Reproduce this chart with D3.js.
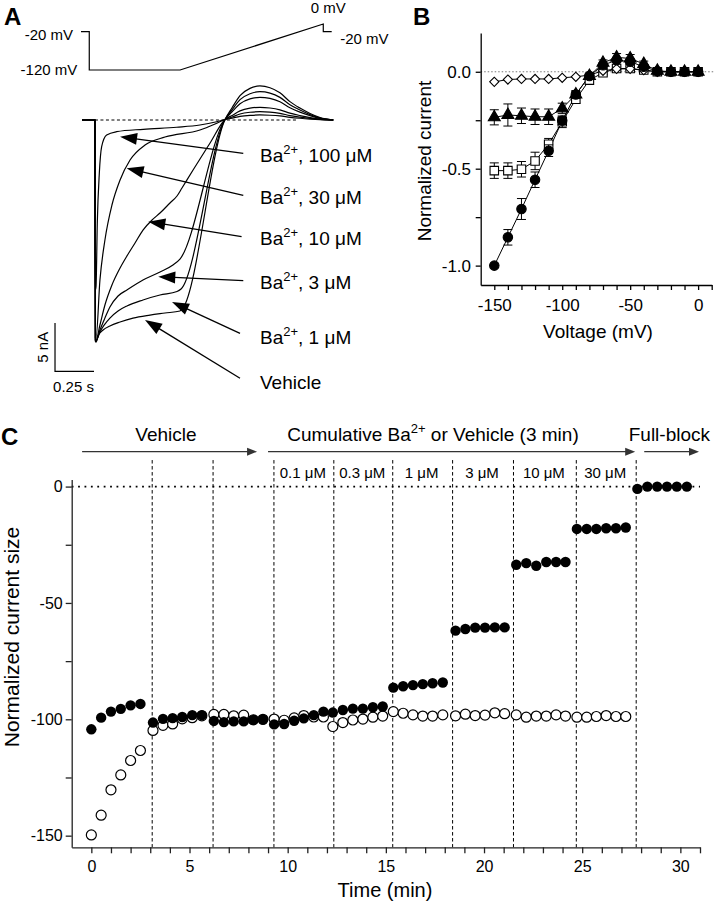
<!DOCTYPE html>
<html><head><meta charset="utf-8">
<script src="https://cdn.jsdelivr.net/npm/d3@7"></script>
<style>
body{margin:0;background:#fff}
svg{display:block}
text{font-family:"Liberation Sans",Arial,Helvetica,sans-serif;fill:#000}
</style>
</head><body>
<svg id="fig" width="714" height="908"></svg>
<script>
// ---------------- DATA ----------------
// Panel A: voltage protocol (ms, mV)
const protoT = [0, 53, 53, 635, 1553, 1553, 1607];
const protoV = [-20, -20, -120, -120, 0, -20, -20];

// Panel A: current traces (time ms, current nA)
const humpT = [962, 1013, 1077, 1141, 1205, 1269, 1333, 1397, 1462, 1526, 1611];
const tVehicle = [0, 83, 86, 90, 103, 135, 179, 244, 327, 436, 532, 628, 647, 917];
const iVehicle = [0, 0, -22.9, -22.96, -22.34, -21.72, -21.30, -20.89, -20.48, -20.17, -19.96, -19.75, -19.44, 0.05];
const hVehicle = [1.27, 2.53, 3.27, 3.52, 3.34, 2.82, 1.90, 1.23, 0.67, 0.25, 0];
const tBa1 = [0, 83, 86, 90, 115, 147, 179, 231, 288, 391, 500, 609, 635, 917];
const iBa1 = [0, 0, -22.8, -22.85, -21.92, -21.10, -20.48, -19.75, -19.23, -18.61, -18.10, -17.74, -17.48, 0.05];
const hBa1 = [1.05, 2.11, 2.72, 2.93, 2.78, 2.34, 1.58, 1.03, 0.56, 0.21, 0];
const tBa3 = [0, 83, 86, 90, 115, 147, 179, 231, 288, 391, 500, 583, 628, 917];
const iBa3 = [0, 0, -22.8, -22.85, -21.72, -20.48, -19.34, -18.20, -17.58, -16.55, -15.72, -15.0, -14.38, 0.05];
const hBa3 = [0.85, 1.69, 2.19, 2.35, 2.23, 1.88, 1.27, 0.82, 0.45, 0.16, 0];
const tBa10 = [0, 83, 86, 90, 115, 147, 192, 244, 288, 340, 391, 449, 500, 564, 609, 641, 712, 821, 917];
const iBa10 = [0, 0, -22.7, -22.75, -21.2, -19.13, -17.06, -15.3, -14.06, -12.72, -11.38, -10.34, -9.62, -8.58, -7.86, -7.03, -5.17, -2.38, 0.05];
const hBa10 = [0.47, 0.94, 1.22, 1.31, 1.24, 1.05, 0.71, 0.46, 0.25, 0.09, 0];
const tBa30 = [0, 83, 86, 90, 115, 147, 192, 244, 308, 404, 532, 756, 853, 917];
const iBa30 = [0, 0, -22.5, -22.54, -16.55, -12.41, -8.79, -6.20, -4.14, -2.59, -1.76, -1.03, -0.41, 0.05];
const hBa30 = [0.31, 0.62, 0.80, 0.86, 0.82, 0.69, 0.46, 0.30, 0.16, 0.06, 0];
const tBa100 = [0, 83, 85, 90, 98, 111, 126, 158, 222, 393, 607, 756, 863, 917];
const iBa100 = [0, 0, -17.6, -17.2, -10.68, -5.51, -2.76, -1.55, -1.21, -0.96, -0.75, -0.52, -0.18, 0.05];
const hBa100 = [0.19, 0.37, 0.48, 0.52, 0.49, 0.42, 0.28, 0.18, 0.10, 0.04, 0];

// Panel A trace labels, with arrow tail/tip (ms, nA)
const labelText = ["100 μM", "30 μM", "10 μM", "3 μM", "1 μM", "Vehicle"];
const labelI = [-3.62, -7.93, -12.23, -16.72, -22.41, -27.06];
const arrowTailT = [1034, 1034, 1023, 1034, 1013, 1013];
const arrowTailI = [-3.45, -7.79, -12.07, -16.62, -22.06, -26.7];
const arrowTipT = [244, 286, 425, 489, 577, 404];
const arrowTipI = [-1.72, -5.0, -10.51, -16.20, -18.82, -20.68];

// Panel B: I-V relationship
const volts = [-150, -140, -130, -120, -110, -100, -90, -80, -70, -60, -50, -40, -30, -20, -10, 0];
const ivCircle = [-1.0, -0.854, -0.708, -0.557, -0.407, -0.252, -0.117, -0.022, 0.034, 0.060, 0.052, 0.026, 0.003, 0.0, 0.0, 0.0];
const ivCircleErr = [0, 0.04, 0.054, 0.04, 0.03, 0.02, 0.015, 0.01, 0.01, 0.01, 0.01, 0.01, 0.005, 0.005, 0.005, 0.005];
const ivSquare = [-0.51, -0.51, -0.503, -0.46, -0.374, -0.258, -0.142, -0.043, -0.005, 0.017, 0.017, 0.009, 0.0, 0.0, 0.0, 0.0];
const ivSquareErr = [0.04, 0.04, 0.04, 0.045, 0.03, 0.03, 0.02, 0.01, 0.01, 0.01, 0.01, 0.01, 0.005, 0.005, 0.005, 0.005];
const ivTriangle = [-0.235, -0.223, -0.227, -0.232, -0.232, -0.189, -0.117, -0.022, 0.046, 0.074, 0.069, 0.04, 0.005, 0.0, 0.0, 0.0];
const ivTriangleErr = [0.039, 0.057, 0.04, 0.04, 0.04, 0.027, 0.02, 0.015, 0.015, 0.02, 0.02, 0.015, 0.01, 0.005, 0.005, 0.005];
const ivDiamond = [-0.052, -0.04, -0.037, -0.037, -0.037, -0.031, -0.026, -0.017, 0.005, 0.015, 0.015, 0.008, 0.0, 0.0, 0.0, 0.0];
const ivDiamondErr = [0.005, 0.005, 0.005, 0.005, 0.005, 0.005, 0.005, 0.005, 0.005, 0.005, 0.005, 0.005, 0.005, 0.005, 0.005, 0.005];

// Panel C: time course
const timeMin = [0, 0.5, 1, 1.5, 2, 2.5,
  3.14, 3.65, 4.14, 4.63, 5.14, 5.63,
  6.24, 6.75, 7.25, 7.76, 8.25, 8.74,
  9.31, 9.82, 10.33, 10.82, 11.33, 11.82,
  12.3, 12.81, 13.32, 13.83, 14.34, 14.84,
  15.38, 15.88, 16.38, 16.88, 17.38, 17.9,
  18.55, 19.05, 19.55, 20.05, 20.55, 21.05,
  21.64, 22.15, 22.66, 23.17, 23.67, 24.15,
  24.73, 25.23, 25.72, 26.22, 26.72, 27.22,
  27.81, 28.32, 28.82, 29.32, 29.82, 30.33];
const baCurrent = [-104.3, -99.3, -96.7, -95.5, -94.0, -93.4,
  -101.4, -99.8, -99.5, -99.0, -98.2, -98.2,
  -100.7, -101.2, -100.9, -100.9, -100.3, -100.1,
  -102.2, -102.0, -100.6, -99.6, -98.2, -96.7,
  -97.1, -96.0, -95.4, -95.4, -94.8, -94.5,
  -86.4, -85.8, -85.3, -84.9, -84.5, -84.2,
  -61.9, -61.2, -60.6, -60.6, -60.5, -60.5,
  -33.6, -32.9, -34.0, -32.4, -32.4, -32.4,
  -18.2, -18.2, -18.2, -17.9, -17.9, -17.6,
  -1.0, 0, 0, 0, 0, 0];
const vehicleCurrent = [-149.7, -141.2, -130.3, -123.9, -117.7, -113.4,
  -104.8, -102.6, -102.0, -99.8, -99.3, -98.5,
  -97.9, -97.9, -98.5, -98.2, -100.2, -100.0,
  -99.9, -100.4, -99.4, -98.4, -99.0, -99.0,
  -103.1, -101.4, -100.3, -99.9, -99.1, -98.6,
  -96.7, -97.4, -98.1, -98.6, -98.6, -98.1,
  -98.5, -97.8, -98.4, -98.2, -97.2, -97.6,
  -98.1, -99.1, -98.6, -98.6, -98.1, -98.6,
  -99.1, -99.1, -98.8, -98.4, -98.8, -98.8];
const solutionChanges = [3.1, 6.2, 9.3, 12.35, 15.35, 18.4, 21.5, 24.7, 27.75];
const concLabels = ["0.1 μM", "0.3 μM", "1 μM", "3 μM", "10 μM", "30 μM"];
const yTicksC = [0, -50, -100, -150];
const xTicksC = [0, 5, 10, 15, 20, 25, 30];

// ---------------- DRAW ----------------
const svg = d3.select("#fig");
const FONT = '"Liberation Sans", Arial, Helvetica, sans-serif';

function arrow(g, x1, y1, x2, y2, L, W, color) {
  const dx = x2 - x1, dy = y2 - y1, len = Math.hypot(dx, dy);
  const ux = dx / len, uy = dy / len;
  const bx = x2 - ux * L, by = y2 - uy * L;
  g.append("line").attr("x1", x1).attr("y1", y1).attr("x2", bx + ux * 1).attr("y2", by + uy * 1)
    .attr("stroke", color).attr("stroke-width", 1.3);
  g.append("path").attr("d", `M${x2},${y2}L${bx - uy * W / 2},${by + ux * W / 2}L${bx + uy * W / 2},${by - ux * W / 2}Z`)
    .attr("fill", color);
}

// Panel letters
[["A", 4, 25], ["B", 413, 25], ["C", 1, 445]].forEach(([t, x, y]) =>
  svg.append("text").attr("x", x).attr("y", y).attr("font-size", 24).attr("font-weight", "bold").text(t));

// ===== Panel A =====
const gA = svg.append("g");
const xP = d3.scaleLinear().domain([0, 1607]).range([81, 331.7]);
const yP = d3.scaleLinear().domain([-120, 0]).range([70, 24]);
gA.append("path").datum(protoT.map((t, i) => [t, protoV[i]]))
  .attr("d", d3.line().x(d => xP(d[0])).y(d => yP(d[1])))
  .attr("fill", "none").attr("stroke", "#000").attr("stroke-width", 1.2);
gA.append("text").attr("x", xP(0) - 8).attr("y", yP(-20) + 8).attr("text-anchor", "end").attr("font-size", 15).text("-20 mV");
gA.append("text").attr("x", xP(53) - 12).attr("y", yP(-120) + 5).attr("text-anchor", "end").attr("font-size", 15).text("-120 mV");
gA.append("text").attr("x", xP(1553) + 5).attr("y", yP(0) - 11).attr("text-anchor", "middle").attr("font-size", 15).text("0 mV");
gA.append("text").attr("x", xP(1553) + 17).attr("y", yP(-20) + 12).attr("font-size", 15).text("-20 mV");

const xA = d3.scaleLinear().domain([0, 1611]).range([82, 333.3]);
const yA = d3.scaleLinear().domain([0, -22.75]).range([120, 340]);
// baseline
gA.append("line").attr("x1", xA(83)).attr("x2", xA(1372)).attr("y1", yA(0)).attr("y2", yA(0))
  .attr("stroke", "#000").attr("stroke-width", 1).attr("stroke-dasharray", "3,2.5");
const traces = [[tVehicle, iVehicle, hVehicle], [tBa1, iBa1, hBa1], [tBa3, iBa3, hBa3],
  [tBa10, iBa10, hBa10], [tBa30, iBa30, hBa30], [tBa100, iBa100, hBa100]];
const lineA = d3.line().x(d => xA(d[0])).y(d => yA(d[1])).curve(d3.curveMonotoneX);
traces.forEach(([t, i, h]) => {
  const pts = t.map((v, k) => [v, i[k]]).concat(humpT.map((v, k) => [v, h[k]]));
  gA.append("path").datum(pts).attr("d", lineA).attr("fill", "none")
    .attr("stroke", "#000").attr("stroke-width", 1.2);
});
// labels + arrows
labelText.forEach((lab, k) => {
  arrow(gA, xA(arrowTailT[k]), yA(arrowTailI[k]), xA(arrowTipT[k]), yA(arrowTipI[k]), 17, 12, "#000");
  const tx = gA.append("text").attr("x", xA(1141)).attr("y", yA(labelI[k]) + 7).attr("font-size", 19);
  if (lab === "Vehicle") { tx.text("Vehicle"); }
  else {
    tx.append("tspan").text("Ba");
    tx.append("tspan").attr("font-size", 13).attr("dy", -8).text("2+");
    tx.append("tspan").attr("dy", 8).text(", " + lab);
  }
});
// scale bar (corner at -173 ms, -26 nA)
const sbT = -173, sbI = -26;
gA.append("path").attr("d", `M${xA(sbT)},${yA(sbI + 5)}L${xA(sbT)},${yA(sbI)}L${xA(sbT + 250)},${yA(sbI)}`)
  .attr("fill", "none").attr("stroke", "#000").attr("stroke-width", 1.2);
gA.append("text").attr("transform", `translate(${xA(sbT) - 7},${yA(sbI + 2.5)}) rotate(-90)`)
  .attr("text-anchor", "middle").attr("font-size", 15).text("5 nA");
gA.append("text").attr("x", xA(sbT + 125) - 1).attr("y", yA(sbI) + 21)
  .attr("text-anchor", "middle").attr("font-size", 15).text("0.25 s");

// ===== Panel B =====
const gB = svg.append("g");
const xB = d3.scaleLinear().domain([-160, 10]).range([480.7, 711.7]);
const yB = d3.scaleLinear().domain([-1.1, 0.2]).range([285, 33]);
gB.append("line").attr("x1", xB(-160)).attr("x2", 714).attr("y1", yB(0)).attr("y2", yB(0))
  .attr("stroke", "#777").attr("stroke-width", 1).attr("stroke-dasharray", "1.5,2");
const axBx = gB.append("g").attr("transform", `translate(0,${yB(-1.1)})`)
  .call(d3.axisBottom(xB).tickValues(d3.range(-150, 11, 10)).tickSize(5).tickSizeOuter(0)
    .tickFormat(d => (d % 50 === 0 ? String(d) : "")));
const axBy = gB.append("g").attr("transform", `translate(${xB(-160)},0)`)
  .call(d3.axisLeft(yB).tickValues([-1.0, -0.75, -0.5, -0.25, 0.0]).tickSize(5).tickSizeOuter(0)
    .tickFormat(d => (Math.abs(d * 2 - Math.round(d * 2)) < 1e-9 ? d.toFixed(1) : "")));
[axBx, axBy].forEach(a => {
  a.selectAll("path,line").attr("stroke", "#000").attr("stroke-width", 1.3);
  a.selectAll("text").attr("font-size", 17).attr("font-family", FONT).attr("fill", "#000");
});
axBx.selectAll("text").attr("dy", "1.05em");
axBy.selectAll("text").attr("dx", "-0.1em");
gB.append("text").attr("x", 598).attr("y", 338).attr("text-anchor", "middle").attr("font-size", 19).text("Voltage (mV)");
gB.append("text").attr("transform", `translate(431,161) rotate(-90)`).attr("text-anchor", "middle")
  .attr("font-size", 19).text("Normalized current");

const seriesB = [
  {v: ivSquare, e: ivSquareErr, sym: d3.symbolSquare, size: 72, fill: "#fff", rot: 0},
  {v: ivDiamond, e: ivDiamondErr, sym: d3.symbolSquare, size: 42, fill: "#fff", rot: 45},
  {v: ivCircle, e: ivCircleErr, sym: d3.symbolCircle, size: 70, fill: "#000", rot: 0},
  {v: ivTriangle, e: ivTriangleErr, sym: d3.symbolTriangle, size: 62, fill: "#000", rot: 0}
];
seriesB.forEach(s => {
  gB.append("path").datum(volts.map((x, i) => [x, s.v[i]]))
    .attr("d", d3.line().x(d => xB(d[0])).y(d => yB(d[1])))
    .attr("fill", "none").attr("stroke", "#000").attr("stroke-width", 1);
});
seriesB.forEach(s => {
  volts.forEach((x, i) => {
    const cx = xB(x), yt = yB(s.v[i] + s.e[i]), yb = yB(s.v[i] - s.e[i]);
    if (s.e[i] > 0.006) {
      gB.append("path").attr("d", `M${cx},${yt}L${cx},${yb}M${cx - 4.5},${yt}L${cx + 4.5},${yt}M${cx - 4.5},${yb}L${cx + 4.5},${yb}`)
        .attr("stroke", "#000").attr("stroke-width", 1).attr("fill", "none");
    }
  });
  volts.forEach((x, i) => {
    gB.append("path").attr("d", d3.symbol().type(s.sym).size(s.size)())
      .attr("transform", `translate(${xB(x)},${yB(s.v[i])}) rotate(${s.rot})`)
      .attr("fill", s.fill).attr("stroke", "#000").attr("stroke-width", 1.1);
  });
});

// ===== Panel C =====
const gC = svg.append("g");
const xC = d3.scaleLinear().domain([-1, 31]).range([71.7, 700]);
const yC = d3.scaleLinear().domain([-155, 3]).range([847.3, 479.6]);
// zero line
gC.append("line").attr("x1", xC(-1)).attr("x2", xC(31)).attr("y1", yC(0)).attr("y2", yC(0))
  .attr("stroke", "#000").attr("stroke-width", 1.6).attr("stroke-dasharray", "1.8,4.6");
// solution-change lines
solutionChanges.forEach(t => {
  gC.append("line").attr("x1", xC(t)).attr("x2", xC(t)).attr("y1", yC(11.4)).attr("y2", yC(-155))
    .attr("stroke", "#000").attr("stroke-width", 1).attr("stroke-dasharray", "3.5,2.5");
});
// axes
const axCx = gC.append("g").attr("transform", `translate(0,${yC(-155)})`)
  .call(d3.axisBottom(xC).tickValues(d3.range(0, 32, 1)).tickSize(6).tickSizeOuter(0)
    .tickFormat(d => (xTicksC.includes(d) ? String(d) : "")));
const axCy = gC.append("g").attr("transform", `translate(${xC(-1)},0)`)
  .call(d3.axisLeft(yC).tickValues([0, -25, -50, -75, -100, -125, -150]).tickSize(6).tickSizeOuter(0)
    .tickFormat(d => (yTicksC.includes(d) ? String(d) : "")));
[axCx, axCy].forEach(a => {
  a.selectAll("path,line").attr("stroke", "#222").attr("stroke-width", 1.3);
  a.selectAll("text").attr("font-size", 16).attr("font-family", FONT).attr("fill", "#000");
});
axCx.selectAll("text").attr("dy", "0.98em");
gC.append("text").attr("x", 385).attr("y", 897).attr("text-anchor", "middle").attr("font-size", 20).text("Time (min)");
gC.append("text").attr("transform", `translate(18.5,637) rotate(-90)`).attr("text-anchor", "middle")
  .attr("font-size", 21).text("Normalized current size");

// top annotations
const arrY = yC(15);
arrow(gC, xC(-0.47), arrY, xC(8.44), arrY, 10, 8, "#333");
arrow(gC, xC(9.0), arrY, xC(27.7), arrY, 10, 8, "#333");
arrow(gC, xC(28.16), arrY, xC(30.95), arrY, 10, 8, "#333");
gC.append("text").attr("x", xC(3.8)).attr("y", yC(19.6)).attr("text-anchor", "middle").attr("font-size", 19).text("Vehicle");
const cum = gC.append("text").attr("x", xC(17.4)).attr("y", yC(19.6)).attr("text-anchor", "middle").attr("font-size", 19);
cum.append("tspan").text("Cumulative Ba");
cum.append("tspan").attr("font-size", 13).attr("dy", -8).text("2+");
cum.append("tspan").attr("dy", 8).text(" or Vehicle (3 min)");
gC.append("text").attr("x", xC(29.44)).attr("y", yC(19.6)).attr("text-anchor", "middle").attr("font-size", 19).text("Full-block");
concLabels.forEach((lab, k) => {
  const a = solutionChanges[k + 2], b = solutionChanges[k + 3];
  gC.append("text").attr("x", xC((a + b) / 2) - 1).attr("y", yC(3.7)).attr("text-anchor", "middle")
    .attr("font-size", 15).text(lab);
});

// points: vehicle (open) first, then Ba (filled)
vehicleCurrent.forEach((v, i) => {
  gC.append("circle").attr("cx", xC(timeMin[i])).attr("cy", yC(v)).attr("r", 5)
    .attr("fill", "#fff").attr("stroke", "#000").attr("stroke-width", 1.2);
});
baCurrent.forEach((v, i) => {
  gC.append("circle").attr("cx", xC(timeMin[i])).attr("cy", yC(v)).attr("r", 5.2).attr("fill", "#000");
});
</script>
</body></html>
